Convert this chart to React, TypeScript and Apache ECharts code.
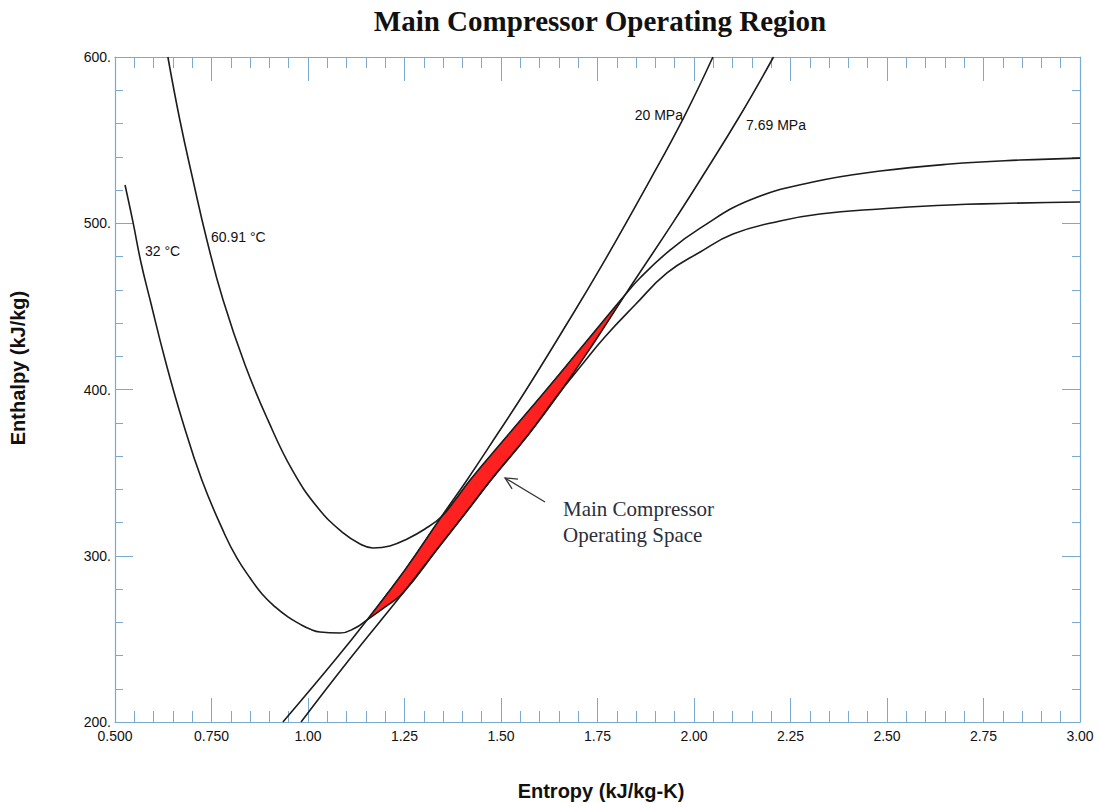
import React, { useEffect, useRef } from 'react';
import * as echarts from 'echarts';

// Tick labels
const xTickLabels = ['0.500', '0.750', '1.00', '1.25', '1.50', '1.75', '2.00', '2.25', '2.50', '2.75', '3.00'];
const yTickLabels = ['200.', '300.', '400.', '500.', '600.'];

// 20 MPa isobar (entropy kJ/kg-K, enthalpy kJ/kg)
const isobar20S = [0.935, 1.070, 1.153, 1.251, 1.345, 1.412, 1.489, 1.565, 1.661, 1.759, 1.886, 1.974, 2.049];
const isobar20H = [200, 237.3, 261.4, 291.4, 323.3, 345.6, 372.6, 399.7, 435.8, 473.7, 526.0, 563.9, 600];

// 7.69 MPa isobar
const isobar769S = [0.982, 1.106, 1.246, 1.339, 1.408, 1.474, 1.570, 1.657, 1.742, 1.821, 1.852, 1.945, 2.016, 2.117, 2.206];
const isobar769H = [200, 237.3, 277.6, 305.3, 325.7, 345.6, 372.6, 399.7, 428.6, 456.8, 467.7, 500.2, 526.0, 563.9, 600];

// 60.91 °C isotherm
const isotherm6091S = [0.637, 0.668, 0.702, 0.738, 0.780, 0.837, 0.896, 0.959, 1.026, 1.091, 1.135, 1.168, 1.212, 1.257, 1.303, 1.345, 1.381, 1.420, 1.518, 1.617, 1.720, 1.821, 1.860, 1.938, 2.016, 2.145, 2.308, 2.482, 2.663, 2.845, 3.0];
const isotherm6091H = [600, 562.1, 526.0, 489.9, 453.8, 414.7, 381.7, 351.6, 328.7, 313.7, 307.1, 304.7, 305.9, 310.1, 316.1, 323.3, 333.5, 345.6, 372.6, 399.7, 428.6, 456.8, 467.1, 483.9, 497.1, 514.0, 524.8, 531.4, 535.6, 538.0, 539.2];

// 32 °C isotherm
const isotherm32S = [0.526, 0.547, 0.567, 0.591, 0.630, 0.674, 0.725, 0.785, 0.816, 0.850, 0.881, 0.915, 0.948, 0.979, 1.005, 1.031, 1.083, 1.122, 1.153, 1.200, 1.246, 1.339, 1.408, 1.474, 1.570, 1.643, 1.707, 1.769, 1.847, 1.930, 2.016, 2.101, 2.223, 2.326, 2.482, 2.663, 3.0];
const isotherm32H = [523.0, 500.2, 476.7, 453.8, 417.7, 381.7, 345.6, 312.5, 298.6, 286.6, 277.0, 269.2, 263.2, 258.9, 255.9, 254.1, 253.5, 256.5, 261.4, 269.2, 277.6, 305.3, 325.7, 345.6, 372.6, 395.5, 414.1, 431.6, 450.8, 470.1, 482.7, 493.5, 501.4, 505.6, 508.6, 511.0, 512.8];

// Operating space: bounded by 20 MPa, 60.91 °C, 7.69 MPa and 32 °C
const regionS = [
  ...isobar20S.slice(2, 5),
  ...isotherm6091S.slice(16, 22),
  ...isobar769S.slice(2, 9).reverse(),
  isotherm32S[19],
];
const regionH = [
  ...isobar20H.slice(2, 5),
  ...isotherm6091H.slice(16, 22),
  ...isobar769H.slice(2, 9).reverse(),
  isotherm32H[19],
];

const AXIS_BLUE = '#7aaad0';
const LINE_COLOR = '#1c1c1c';
const SANS = '"Liberation Sans", Arial, sans-serif';
const SERIF = '"Liberation Serif", "Times New Roman", serif';

function curve(name: string, S: number[], H: number[]) {
  return {
    type: 'line',
    name,
    data: S.map((s, i) => [s, H[i]]),
    symbol: 'none',
    showSymbol: false,
    smooth: 0.45,
    clip: true,
    silent: true,
    z: 3,
    lineStyle: { color: LINE_COLOR, width: 1.6 },
  };
}

function xAxisDef(position: 'bottom' | 'top') {
  return {
    type: 'value',
    position,
    min: 0.5,
    max: 3.0,
    interval: 0.25,
    axisLine: { show: true, onZero: false, lineStyle: { color: AXIS_BLUE, width: 1.2 } },
    axisTick: { show: true, inside: true, length: 24, lineStyle: { color: AXIS_BLUE, width: 1 } },
    minorTick: { show: true, splitNumber: 5, length: 11, lineStyle: { color: AXIS_BLUE, width: 1 } },
    splitLine: { show: false },
    axisLabel: {
      show: position === 'bottom',
      margin: 7,
      color: '#111',
      fontFamily: SANS,
      fontSize: 14,
      formatter: (v: number) => xTickLabels[Math.round((v - 0.5) / 0.25)] ?? '',
    },
  };
}

function yAxisDef(position: 'left' | 'right') {
  return {
    type: 'value',
    position,
    min: 200,
    max: 600,
    interval: 100,
    axisLine: { show: true, onZero: false, lineStyle: { color: AXIS_BLUE, width: 1.2 } },
    axisTick: { show: true, inside: true, length: 18, lineStyle: { color: AXIS_BLUE, width: 1 } },
    minorTick: { show: true, splitNumber: 5, length: 8, lineStyle: { color: AXIS_BLUE, width: 1 } },
    splitLine: { show: false },
    axisLabel: {
      show: position === 'left',
      margin: 4,
      color: '#111',
      fontFamily: SANS,
      fontSize: 14,
      formatter: (v: number) => yTickLabels[Math.round((v - 200) / 100)] ?? '',
    },
  };
}

function textEl(text: string, x: number, y: number, font: string, fill: string, align = 'left', extra: any = {}) {
  return {
    type: 'text',
    x,
    y,
    silent: true,
    z: 10,
    ...extra,
    style: {
      text,
      x: 0,
      y: 0,
      font,
      fill,
      align,
      textAlign: align,
      verticalAlign: 'middle',
      textVerticalAlign: 'middle',
    },
  };
}

export default function App() {
  const ref = useRef<HTMLDivElement>(null);

  useEffect(() => {
    if (!ref.current) return;
    const chart = echarts.init(ref.current, null, { renderer: 'svg' });

    chart.setOption({
      animation: false,
      backgroundColor: '#ffffff',
      grid: { left: 115, right: 19, top: 57, bottom: 81, containLabel: false },
      xAxis: [xAxisDef('bottom'), xAxisDef('top')],
      yAxis: [yAxisDef('left'), yAxisDef('right')],
      series: [
        {
          type: 'custom',
          name: 'Operating Space',
          silent: true,
          z: 2,
          data: [[regionS[0], regionH[0]]],
          renderItem: (_params: any, api: any) => {
            const points = regionS.map((s, i) => api.coord([s, regionH[i]]));
            return {
              type: 'polygon',
              shape: { points },
              style: { fill: '#ff2020', stroke: '#3a0000', lineWidth: 0.8 },
            };
          },
        },
        curve('20 MPa', isobar20S, isobar20H),
        curve('7.69 MPa', isobar769S, isobar769H),
        curve('60.91 °C', isotherm6091S, isotherm6091H),
        curve('32 °C', isotherm32S, isotherm32H),
      ],
    });

    const px = (s: number, h: number) => chart.convertToPixel({ gridIndex: 0 }, [s, h]) as number[];

    // annotation arrow pointing at the operating space
    const tail = px(1.614, 332.3);
    const head = px(1.5104, 346.8);
    const dx = head[0] - tail[0];
    const dy = head[1] - tail[1];
    const len = Math.hypot(dx, dy);
    const ux = dx / len;
    const uy = dy / len;
    const headLen = 13;
    const ang = (26 * Math.PI) / 180;
    const wing = (sign: number) => {
      const c = Math.cos(sign * ang);
      const sn = Math.sin(sign * ang);
      const bx = -ux;
      const by = -uy;
      return [head[0] + headLen * (bx * c - by * sn), head[1] + headLen * (bx * sn + by * c)];
    };

    const lbl20 = px(1.9715, 565.1);
    const lbl769 = px(2.1347, 559.1);
    const lbl32 = px(0.5777, 483.3);
    const lbl6091 = px(0.7487, 491.7);
    const note1 = px(1.6606, 328.1);
    const note2 = px(1.6606, 312.5);

    const curveFont = `14px ${SANS}`;
    const noteFont = `21px ${SERIF}`;

    chart.setOption({
      graphic: [
        textEl('Main Compressor Operating Region', 600, 21, `bold 29px ${SERIF}`, '#111', 'center'),
        textEl('Entropy (kJ/kg-K)', 601, 791, `bold 20px ${SANS}`, '#111', 'center'),
        textEl('Enthalpy (kJ/kg)', 18, 368, `bold 20px ${SANS}`, '#111', 'center', { rotation: Math.PI / 2 }),
        textEl('20 MPa', lbl20[0], lbl20[1], curveFont, '#111', 'right'),
        textEl('7.69 MPa', lbl769[0], lbl769[1], curveFont, '#111', 'left'),
        textEl('32 °C', lbl32[0], lbl32[1], curveFont, '#111', 'left'),
        textEl('60.91 °C', lbl6091[0], lbl6091[1], curveFont, '#111', 'left'),
        textEl('Main Compressor', note1[0], note1[1], noteFont, '#2b2f3a', 'left'),
        textEl('Operating Space', note2[0], note2[1], noteFont, '#2b2f3a', 'left'),
        {
          type: 'line',
          silent: true,
          z: 10,
          shape: { x1: tail[0], y1: tail[1], x2: head[0], y2: head[1] },
          style: { stroke: '#333', lineWidth: 1.3 },
        },
        {
          type: 'polyline',
          silent: true,
          z: 10,
          shape: { points: [wing(1), head, wing(-1)] },
          style: { stroke: '#333', lineWidth: 1.3, fill: null },
        },
      ],
    });

    return () => chart.dispose();
  }, []);

  return (
    <div
      ref={ref}
      style={{ position: 'absolute', left: 0, top: 0, width: 1099, height: 803, background: '#fff' }}
    />
  );
}
